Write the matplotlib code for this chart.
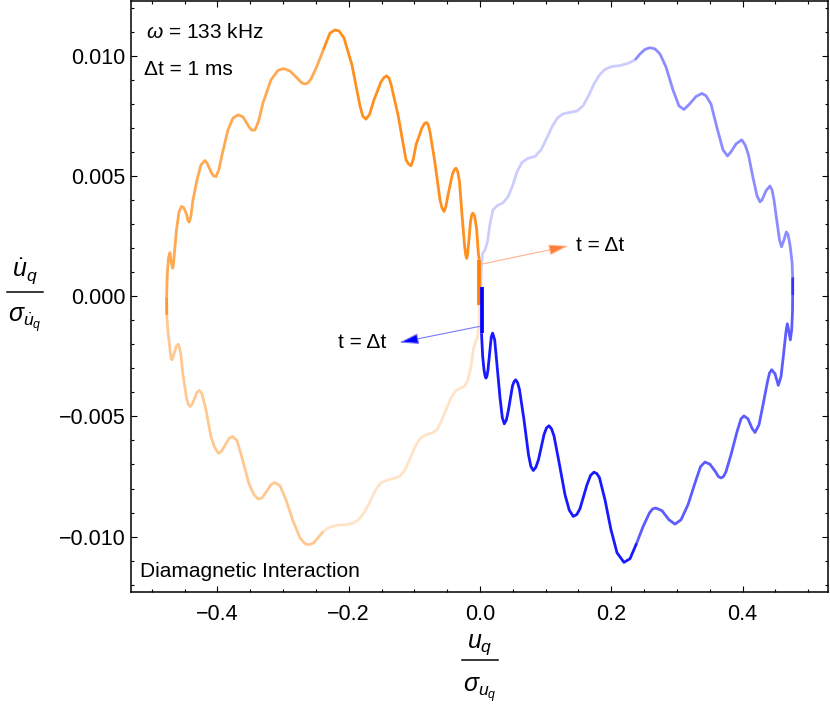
import matplotlib
matplotlib.use('Agg')
import matplotlib.pyplot as plt
from matplotlib.lines import Line2D
from matplotlib.ticker import MultipleLocator, FuncFormatter

plt.rcParams['font.family'] = ['Liberation Sans', 'DejaVu Sans']
plt.rcParams['mathtext.fontset'] = 'custom'
plt.rcParams['mathtext.rm'] = 'Liberation Sans'
plt.rcParams['mathtext.it'] = 'Liberation Sans:italic'
plt.rcParams['mathtext.bf'] = 'Liberation Sans:bold'

# ---------------- data ----------------
orange_x = [-0.0011, -0.0011, -0.0026, -0.0050, -0.0081, -0.0096, -0.0111, -0.0127, -0.0145, -0.0175,
            -0.0190, -0.0203, -0.0217, -0.0236, -0.0274, -0.0312, -0.0340, -0.0366, -0.0392, -0.0419,
            -0.0487, -0.0520, -0.0548, -0.0578, -0.0609, -0.0693, -0.0762, -0.0788, -0.0812, -0.0845,
            -0.0883, -0.0975, -0.1015, -0.1051, -0.1090, -0.1127, -0.1249, -0.1356, -0.1388, -0.1421,
            -0.1462, -0.1508, -0.1615, -0.1680, -0.1736, -0.1785, -0.1828, -0.1950, -0.2072, -0.2148,
            -0.2209, -0.2285, -0.2387, -0.2487, -0.2574, -0.2620, -0.2666, -0.2720, -0.2772, -0.2894,
            -0.2986, -0.3077, -0.3184, -0.3306, -0.3370, -0.3427, -0.3475, -0.3519, -0.3610, -0.3682,
            -0.3762, -0.3839, -0.3930, -0.3978, -0.4021, -0.4060, -0.4098, -0.4159, -0.4189, -0.4250,
            -0.4311, -0.4372, -0.4405, -0.4428, -0.4450, -0.4471, -0.4516, -0.4547, -0.4585, -0.4623,
            -0.4653, -0.4668, -0.4681, -0.4704, -0.4722, -0.4745, -0.4764, -0.4773, -0.4771, -0.4753,
            -0.4722, -0.4710, -0.4696, -0.4680, -0.4661, -0.4623, -0.4595, -0.4562, -0.4524, -0.4471,
            -0.4445, -0.4417, -0.4385, -0.4356, -0.4311, -0.4276, -0.4235, -0.4174, -0.4098, -0.4040,
            -0.3986, -0.3945, -0.3899, -0.3823, -0.3767, -0.3701, -0.3625, -0.3519, -0.3445, -0.3377,
            -0.3325, -0.3275, -0.3184, -0.3123, -0.3047, -0.2955, -0.2849, -0.2742, -0.2666, -0.2600,
            -0.2529, -0.2453, -0.2387, -0.2285, -0.2163, -0.2041, -0.1935, -0.1843, -0.1759, -0.1676,
            -0.1584, -0.1508, -0.1401, -0.1295, -0.1219, -0.1142, -0.1066, -0.0982, -0.0914, -0.0823,
            -0.0731, -0.0655, -0.0586, -0.0518, -0.0442, -0.0373, -0.0305, -0.0236, -0.0183, -0.0137,
            -0.0102, -0.0069, -0.0038, -0.0015, -0.0011]
orange_y = [-0.00036, 0.00151, 0.00179, 0.00276, 0.00332, 0.00341, 0.00345, 0.00336, 0.00309, 0.00213,
            0.00171, 0.00157, 0.00170, 0.00213, 0.00338, 0.00475, 0.00519, 0.00532, 0.00525, 0.00508,
            0.00421, 0.00372, 0.00352, 0.00366, 0.00400, 0.00567, 0.00683, 0.00712, 0.00722, 0.00718,
            0.00700, 0.00629, 0.00570, 0.00542, 0.00550, 0.00567, 0.00754, 0.00882, 0.00907, 0.00916,
            0.00909, 0.00891, 0.00816, 0.00757, 0.00736, 0.00748, 0.00791, 0.00961, 0.01074, 0.01103,
            0.01107, 0.01094, 0.01024, 0.00954, 0.00903, 0.00887, 0.00882, 0.00888, 0.00903, 0.00936,
            0.00946, 0.00939, 0.00899, 0.00803, 0.00730, 0.00691, 0.00690, 0.00704, 0.00745, 0.00754,
            0.00741, 0.00691, 0.00587, 0.00525, 0.00497, 0.00500, 0.00517, 0.00554, 0.00564, 0.00546,
            0.00483, 0.00400, 0.00330, 0.00308, 0.00315, 0.00342, 0.00369, 0.00373, 0.00350, 0.00276,
            0.00184, 0.00135, 0.00116, 0.00143, 0.00181, 0.00159, 0.00089, -0.00007, -0.00078, -0.00148,
            -0.00223, -0.00252, -0.00265, -0.00258, -0.00240, -0.00207, -0.00200, -0.00232, -0.00327, -0.00423,
            -0.00449, -0.00459, -0.00450, -0.00431, -0.00400, -0.00392, -0.00406, -0.00473, -0.00585, -0.00630,
            -0.00653, -0.00647, -0.00628, -0.00591, -0.00584, -0.00601, -0.00672, -0.00780, -0.00825, -0.00844,
            -0.00840, -0.00822, -0.00784, -0.00775, -0.00788, -0.00847, -0.00934, -0.01005, -0.01030, -0.01034,
            -0.01025, -0.01000, -0.00978, -0.00960, -0.00952, -0.00951, -0.00944, -0.00928, -0.00897, -0.00855,
            -0.00803, -0.00776, -0.00764, -0.00757, -0.00749, -0.00722, -0.00676, -0.00622, -0.00593, -0.00576,
            -0.00570, -0.00556, -0.00518, -0.00473, -0.00423, -0.00394, -0.00383, -0.00375, -0.00348, -0.00294,
            -0.00223, -0.00190, -0.00171, -0.00119, -0.00028]

blue_x = [0.0023, 0.0023, 0.0041, 0.0061, 0.0076, 0.0091, 0.0106, 0.0122, 0.0152, 0.0173,
          0.0193, 0.0224, 0.0259, 0.0305, 0.0340, 0.0370, 0.0402, 0.0434, 0.0495, 0.0520,
          0.0544, 0.0573, 0.0602, 0.0670, 0.0739, 0.0775, 0.0812, 0.0850, 0.0891, 0.0975,
          0.1013, 0.1051, 0.1090, 0.1127, 0.1203, 0.1295, 0.1360, 0.1421, 0.1475, 0.1523,
          0.1630, 0.1685, 0.1736, 0.1780, 0.1820, 0.1904, 0.1995, 0.2087, 0.2193, 0.2285,
          0.2387, 0.2483, 0.2582, 0.2630, 0.2676, 0.2772, 0.2879, 0.2970, 0.3062, 0.3169,
          0.3275, 0.3359, 0.3427, 0.3503, 0.3587, 0.3630, 0.3671, 0.3710, 0.3747, 0.3823,
          0.3915, 0.3976, 0.4021, 0.4082, 0.4143, 0.4189, 0.4250, 0.4311, 0.4379, 0.4410,
          0.4443, 0.4494, 0.4544, 0.4585, 0.4623, 0.4661, 0.4681, 0.4703, 0.4727, 0.4748,
          0.4760, 0.4763, 0.4763, 0.4753, 0.4722, 0.4692, 0.4666, 0.4631, 0.4593, 0.4562,
          0.4524, 0.4478, 0.4450, 0.4417, 0.4356, 0.4296, 0.4265, 0.4220, 0.4159, 0.4090,
          0.4040, 0.3987, 0.3900, 0.3823, 0.3770, 0.3702, 0.3610, 0.3519, 0.3443, 0.3382,
          0.3290, 0.3199, 0.3107, 0.3031, 0.2940, 0.2833, 0.2742, 0.2666, 0.2590, 0.2513,
          0.2437, 0.2361, 0.2254, 0.2133, 0.2011, 0.1904, 0.1820, 0.1736, 0.1653, 0.1569,
          0.1478, 0.1371, 0.1264, 0.1180, 0.1097, 0.1005, 0.0929, 0.0838, 0.0731, 0.0640,
          0.0564, 0.0495, 0.0427, 0.0350, 0.0267, 0.0198, 0.0152, 0.0114, 0.0076, 0.0038,
          0.0020, 0.0015]
blue_y = [0.00037, -0.00154, -0.00251, -0.00306, -0.00330, -0.00341, -0.00332, -0.00306, -0.00223, -0.00168,
          -0.00154, -0.00182, -0.00286, -0.00423, -0.00505, -0.00531, -0.00515, -0.00473, -0.00373, -0.00355,
          -0.00348, -0.00360, -0.00389, -0.00514, -0.00660, -0.00708, -0.00725, -0.00712, -0.00680, -0.00576,
          -0.00548, -0.00539, -0.00552, -0.00581, -0.00689, -0.00826, -0.00890, -0.00916, -0.00908, -0.00884,
          -0.00784, -0.00745, -0.00732, -0.00738, -0.00755, -0.00847, -0.00971, -0.01067, -0.01107, -0.01092,
          -0.01027, -0.00959, -0.00901, -0.00885, -0.00881, -0.00892, -0.00930, -0.00948, -0.00930, -0.00867,
          -0.00777, -0.00709, -0.00690, -0.00699, -0.00730, -0.00750, -0.00756, -0.00750, -0.00730, -0.00660,
          -0.00564, -0.00510, -0.00498, -0.00510, -0.00549, -0.00567, -0.00535, -0.00452, -0.00356, -0.00320,
          -0.00306, -0.00323, -0.00371, -0.00335, -0.00244, -0.00148, -0.00115, -0.00144, -0.00182, -0.00140,
          -0.00065, 0.00005, 0.00078, 0.00143, 0.00213, 0.00257, 0.00267, 0.00234, 0.00205, 0.00234,
          0.00309, 0.00400, 0.00440, 0.00458, 0.00438, 0.00400, 0.00392, 0.00417, 0.00492, 0.00587,
          0.00628, 0.00650, 0.00633, 0.00600, 0.00583, 0.00608, 0.00700, 0.00799, 0.00833, 0.00843,
          0.00830, 0.00801, 0.00776, 0.00791, 0.00857, 0.00953, 0.01007, 0.01028, 0.01033, 0.01026,
          0.01007, 0.00982, 0.00968, 0.00959, 0.00955, 0.00943, 0.00920, 0.00882, 0.00833, 0.00791,
          0.00770, 0.00764, 0.00758, 0.00741, 0.00704, 0.00650, 0.00608, 0.00581, 0.00573, 0.00556,
          0.00517, 0.00458, 0.00413, 0.00388, 0.00377, 0.00359, 0.00300, 0.00226, 0.00192, 0.00176,
          0.00126, 0.00034]

# index ranges (inclusive) of the time pieces: first Δt, then four quarters
orange_pieces = [(0, 1), (1, 52), (52, 98), (97, 142), (142, 174)]
blue_pieces = [(0, 1), (1, 50), (50, 92), (91, 131), (131, 161)]

arrow_orange = ((0.0026, 0.00133), (0.1345, 0.00209))
arrow_blue = ((-0.0010, -0.00126), (-0.1230, -0.00193))
label_orange_pos = (0.147, 0.00209)
label_blue_pos = (-0.143, -0.00194)

x_ticks = [-0.4, -0.2, 0.0, 0.2, 0.4]
y_ticks = [-0.010, -0.005, 0.0, 0.005, 0.010]

assert len(orange_x) == len(orange_y) == 175
assert len(blue_x) == len(blue_y) == 162

# ---------------- figure ----------------
W, H = 830, 708
fig = plt.figure(figsize=(W / 100, H / 100), dpi=100)
ax = fig.add_axes([131 / W, 116 / H, 697 / W, 591 / H])

orange_rgb = (1.0, 0.5, 0.0)
blue_rgb = (0.0, 0.0, 1.0)
orange_alpha = [1.0, 0.88, 0.68, 0.43, 0.22]
blue_alpha = [1.0, 0.9, 0.64, 0.45, 0.2]

for k in range(4, 0, -1):
    s, e = orange_pieces[k]
    ax.plot(orange_x[s:e + 1], orange_y[s:e + 1], color=orange_rgb, alpha=orange_alpha[k],
            lw=2.0, solid_capstyle='butt', solid_joinstyle='round', zorder=2 + (4 - k) * 0.1)
    s, e = blue_pieces[k]
    ax.plot(blue_x[s:e + 1], blue_y[s:e + 1], color=blue_rgb, alpha=blue_alpha[k],
            lw=2.0, solid_capstyle='butt', solid_joinstyle='round', zorder=2 + (4 - k) * 0.1)

s, e = orange_pieces[0]
ax.plot(orange_x[s:e + 1], orange_y[s:e + 1], color=orange_rgb, lw=2.7,
        solid_capstyle='butt', zorder=4)
s, e = blue_pieces[0]
ax.plot(blue_x[s:e + 1], blue_y[s:e + 1], color=blue_rgb, lw=2.7,
        solid_capstyle='butt', zorder=4)

# arrows
ax.annotate('', xy=arrow_orange[1], xytext=arrow_orange[0],
            arrowprops=dict(arrowstyle='-|>,head_length=0.8,head_width=0.22',
                            ec='#FFB48C', fc='#FF7B3A', lw=0.8, mutation_scale=15,
                            shrinkA=0, shrinkB=0), zorder=5)
ax.annotate('', xy=arrow_blue[1], xytext=arrow_blue[0],
            arrowprops=dict(arrowstyle='-|>,head_length=0.8,head_width=0.22',
                            ec='#7A7AFF', fc='#0000FF', lw=0.8, mutation_scale=15,
                            shrinkA=0, shrinkB=0), zorder=5)
ax.text(label_orange_pos[0], label_orange_pos[1], 't = \u0394t', fontsize=15,
        ha='left', va='center')
ax.text(label_blue_pos[0], label_blue_pos[1], 't = \u0394t', fontsize=15,
        ha='right', va='center')

# annotations
ax.text(0.022, 0.9369, r'$\omega$ = 133 kHz', transform=ax.transAxes, fontsize=15,
        ha='left', va='baseline')
ax.text(0.019, 0.8748, '\u0394t = 1 ms', transform=ax.transAxes, fontsize=15,
        ha='left', va='baseline')
ax.text(0.013, 0.0259, 'Diamagnetic Interaction', transform=ax.transAxes, fontsize=15,
        ha='left', va='baseline')

# axes
ax.set_xlim(-0.5316, 0.5301)
ax.set_ylim(-0.012303, 0.012273)
ax.set_xticks(x_ticks)
ax.set_yticks(y_ticks)
ax.xaxis.set_minor_locator(MultipleLocator(0.05))
ax.yaxis.set_minor_locator(MultipleLocator(0.001))


def fmt_x(v, p):
    if abs(v) < 1e-9:
        return '0.0'
    return f'{v:.1f}'.replace('-', '\u2212')


def fmt_y(v, p):
    if abs(v) < 1e-12:
        return '0.000'
    return f'{v:.3f}'.replace('-', '\u2212')


ax.xaxis.set_major_formatter(FuncFormatter(fmt_x))
ax.yaxis.set_major_formatter(FuncFormatter(fmt_y))
ax.tick_params(which='both', direction='in', top=True, right=True, width=0.8,
               labelsize=15.5, colors='black')
ax.tick_params(which='major', length=4.2)
ax.tick_params(which='minor', length=2.4)
ax.tick_params(axis='x', which='major', pad=9)
ax.tick_params(axis='y', which='major', pad=4)
for sp in ax.spines.values():
    sp.set_linewidth(1.1)


# stacked-fraction axis labels (numerator, bar, denominator), placed in pixels
def frac_label(cx, num, den, y_num, y_bar, y_den, half):
    fig.text(cx / W, 1 - y_num / H, num, fontsize=18, ha='center', va='baseline')
    fig.text(cx / W, 1 - y_den / H, den, fontsize=18, ha='center', va='baseline')
    fig.add_artist(Line2D([(cx - half) / W, (cx + half) / W], [1 - y_bar / H, 1 - y_bar / H],
                          transform=fig.transFigure, color='black', lw=1.1))


frac_label(480, r'$u_q$', r'$\sigma_{u_q}$', 648, 660, 692, 18)
frac_label(24.7, r'$\dot{u}_q$', r'$\sigma_{\dot{u}_q}$', 277, 291.7, 322, 18)

fig.savefig('out.png', dpi=100)
